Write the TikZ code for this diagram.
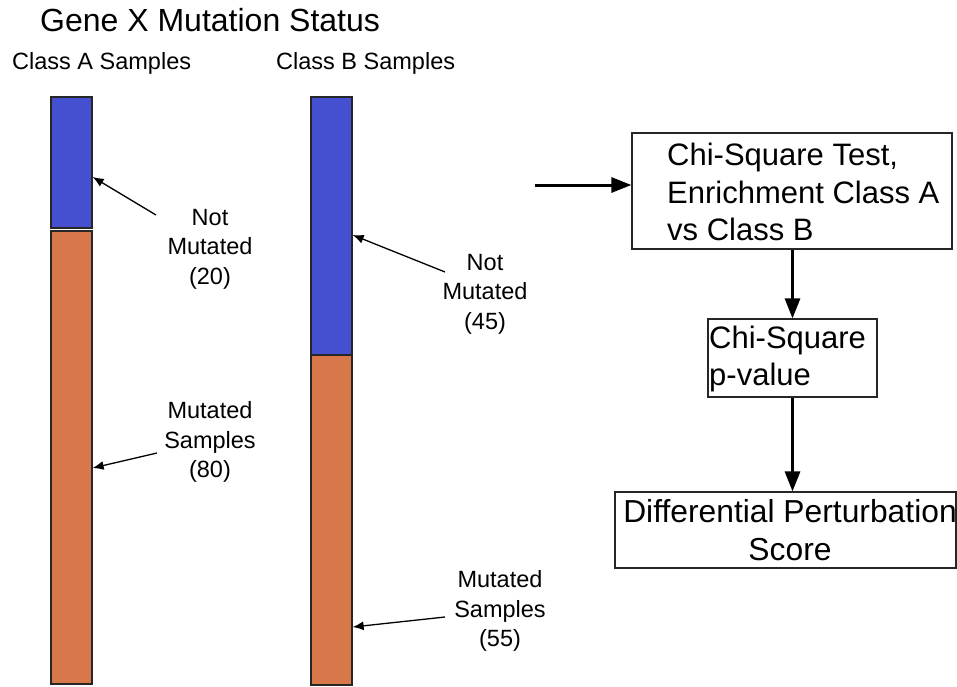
\documentclass[tikz,border=0pt]{standalone}
\usepackage{fontspec}
\setmainfont{Liberation Sans}
\usetikzlibrary{arrows.meta,calc}
\definecolor{barblue}{RGB}{68,80,207}
\definecolor{barorange}{RGB}{216,120,74}
\tikzset{
  bar/.style={draw=black!85, line width=1.3pt, inner sep=0pt, minimum width=41pt},
  bluebar/.style={bar, fill=barblue},
  orangebar/.style={bar, fill=barorange},
  lbl/.style={font=\fontsize{23.5}{29.5}\selectfont, align=center, inner sep=0pt},
  big/.style={font=\fontsize{31}{37.5}\selectfont, inner sep=0pt},
  box/.style={draw=black!85, line width=1.2pt, inner sep=0pt},
  thin/.style={line width=1.3pt, -{Latex[length=11pt,width=9pt]}},
  thick/.style={line width=3pt, -{Triangle[length=20pt,width=15pt]}}
}
\begin{document}
\begin{tikzpicture}[x=1pt,y=-1pt]
\useasboundingbox (0,0) rectangle (957,687);
% titles
\node[anchor=west, font=\fontsize{32}{36}\selectfont, inner sep=0pt] (title) at (40,20) {Gene X Mutation Status};
\node[anchor=west, lbl] (ca) at (12,63) {Class A Samples};
\node[anchor=west, lbl] (cb) at (276,63) {Class B Samples};
% bars
\node[bluebar, minimum height=131pt] (aN) at (71.5,162.5) {};
\node[orangebar, minimum height=453pt] (aM) at (71.5,457.5) {};
\node[bluebar, minimum height=258pt] (bN) at (331.5,226) {};
\node[orangebar, minimum height=330pt] (bM) at (331.5,520) {};
% labels
\node[lbl] (laN) at (210,249) {Not\\Mutated\\(20)};
\node[lbl] (laM) at (210,442) {Mutated\\Samples\\(80)};
\node[lbl] (lbN) at (485,294) {Not\\Mutated\\(45)};
\node[lbl] (lbM) at (500,611) {Mutated\\Samples\\(55)};
\coordinate (taN) at (156,215);
\coordinate (taM) at (157,453);
\coordinate (tbN) at (445,272);
\coordinate (tbM) at (445,617);
\draw[thin] (taN) -- (aN.east |- 0,177);
\draw[thin] (taM) -- (aM.east |- 0,468);
\draw[thin] (tbN) -- (bN.east |- 0,235);
\draw[thin] (tbM) -- (bM.east |- 0,627);
% flow boxes
\node[box, minimum width=320pt, minimum height=116pt] (b1) at (792,191) {};
\node[big, anchor=west, align=left] (t1) at (667,192) {Chi-Square Test,\\Enrichment Class A\\vs Class B};
\node[box, minimum width=169pt, minimum height=78pt] (b2) at (792.5,358) {};
\node[big, anchor=west, align=left] (t2) at (709,359) {Chi-Square\\p-value};
\node[box, minimum width=341pt, minimum height=76pt] (b3) at (785.5,530) {};
\node[big, font=\fontsize{31.8}{37.5}\selectfont, align=center] (t3) at (790,530) {Differential Perturbation\\Score};
\coordinate (in) at (535,185);
\draw[thick] (in) -- (in -| b1.west);
\draw[thick] (b2.north |- b1.south) -- (b2.north);
\draw[thick] (b2.south) -- (b2.south |- b3.north);
\end{tikzpicture}
\end{document}
